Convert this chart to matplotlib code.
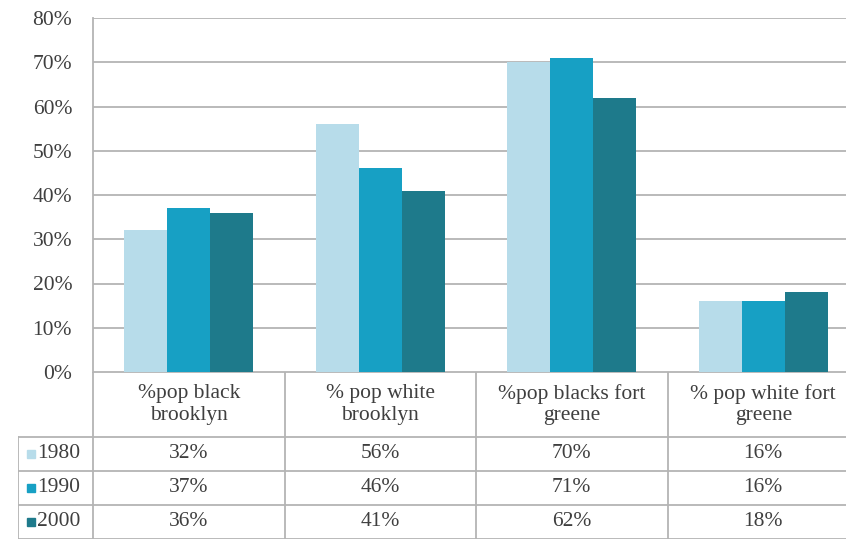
import matplotlib.pyplot as plt
from matplotlib.patches import Rectangle

categories = ["%pop black\nbrooklyn", "% pop white\nbrooklyn",
              "%pop blacks fort\ngreene", "% pop white fort\ngreene"]
years = ["1980", "1990", "2000"]
values = {
    "1980": [32, 56, 70, 16],
    "1990": [37, 46, 71, 16],
    "2000": [36, 41, 62, 18],
}
colors = {"1980": "#b7dcea", "1990": "#17a0c4", "2000": "#1e7a8b"}
yticks = [0, 10, 20, 30, 40, 50, 60, 70, 80]

plt.rcParams['font.family'] = ['Liberation Serif', 'DejaVu Serif']
TXT = "#3f3f3f"
GRID = "#b4b4b4"
FS = 15.5

W, H = 846, 548
fig = plt.figure(figsize=(W / 100, H / 100), dpi=100)

# pixel geometry of the plot and table
left_px, col_px = 93, 191.5
top_px, base_px = 18, 372
right_px = left_px + 4 * col_px
ax = fig.add_axes([left_px / W, 1 - base_px / H,
                   (right_px - left_px) / W, (base_px - top_px) / H])

bw = 0.225
for i, yr in enumerate(years):
    xs = [c + (i - 1) * bw for c in range(len(categories))]
    ax.bar(xs, values[yr], width=bw, color=colors[yr], zorder=3)

ax.set_xlim(-0.5, 3.5)
ax.set_ylim(0, 80)
ax.set_yticks(yticks)
ax.set_yticklabels([f"{v}%" for v in yticks], fontsize=FS, color=TXT)
ax.set_xticks([])
ax.tick_params(axis='y', length=0, pad=15)
ax.grid(axis='y', color=GRID, linewidth=1.3, zorder=0)
for s in ["top", "right", "bottom"]:
    ax.spines[s].set_visible(False)
ax.spines["left"].set_color(GRID)
ax.spines["left"].set_linewidth(1.3)

# data table under the bars
leg_px = 18
hdr_px, row_px = 437, 34
bottom_px = hdr_px + 3 * row_px
tab = fig.add_axes([leg_px / W, 1 - bottom_px / H,
                    (right_px - leg_px) / W, (bottom_px - base_px) / H])
x0 = -0.5 - (left_px - leg_px) / col_px
tab.set_xlim(x0, 3.5)
tab.set_ylim(bottom_px, base_px)
tab.axis("off")

lk = dict(color=GRID, linewidth=1.3)
tab.plot([-0.5, 3.5], [base_px, base_px], **lk)
for k in range(4):
    y = hdr_px + k * row_px
    tab.plot([x0, 3.5], [y, y], **lk)
tab.plot([x0, x0], [hdr_px, bottom_px], **lk)
for c in range(4):
    tab.plot([c - 0.5, c - 0.5], [base_px, bottom_px], **lk)

for c, name in enumerate(categories):
    tab.text(c, (base_px + hdr_px) / 2, name, ha="center", va="center",
             fontsize=FS, color=TXT, linespacing=1.2)

sq = 8 / col_px
for r, yr in enumerate(years):
    yc = hdr_px + (r + 0.5) * row_px
    tab.add_patch(Rectangle((x0 + 9 / col_px, yc - 4), sq, 8,
                            color=colors[yr], clip_on=False))
    tab.text(x0 + 19 / col_px, yc, yr, ha="left", va="center",
             fontsize=FS, color=TXT)
    for c, v in enumerate(values[yr]):
        tab.text(c, yc, f"{v}%", ha="center", va="center",
                 fontsize=FS, color=TXT)

fig.savefig("out.png", dpi=100)
